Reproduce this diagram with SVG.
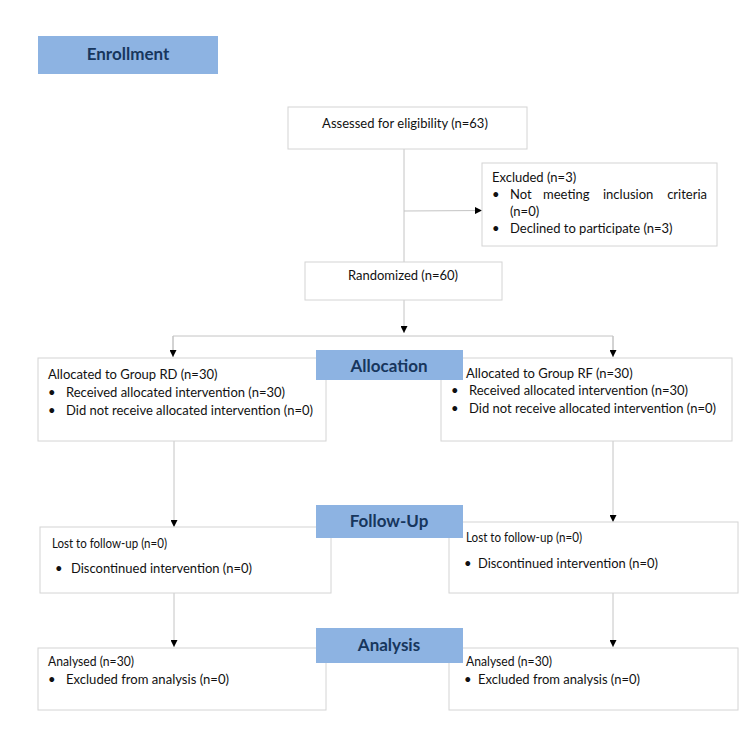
<svg xmlns="http://www.w3.org/2000/svg" width="750" height="731" viewBox="0 0 750 731">
<style>
.box{fill:#fff;stroke:#d4d4d4;stroke-width:1}
.lab{fill:#8db3e2;stroke:none}
.lt{font-family:Lato,"Noto Sans",sans-serif;font-size:17px;font-weight:bold;fill:#17365d;text-anchor:middle}
.t{font-family:Lato,"Noto Sans",sans-serif;font-size:13px;fill:#111}
.b{font-size:14px}
.c{stroke:#c4c4c4;stroke-width:1;fill:none}
</style>
<defs>
<marker id="ah" viewBox="0 0 10 10" refX="10" refY="5" markerWidth="7" markerHeight="7" markerUnits="userSpaceOnUse" orient="auto">
<path d="M0,0 L10,5 L0,10 Z" fill="#000"/>
</marker>
</defs>
<rect width="750" height="731" fill="#fff"/>
<g id="connectors">
<line class="c" x1="404" y1="149" x2="404" y2="262"/>
<line class="c" x1="404" y1="211" x2="482" y2="210.5" marker-end="url(#ah)"/>
<line class="c" x1="404" y1="300" x2="404" y2="333" marker-end="url(#ah)"/>
<polyline class="c" points="173,357 173,336 613,336 613,357"/>
<line class="c" x1="173" y1="336" x2="173" y2="357" marker-end="url(#ah)"/>
<line class="c" x1="613" y1="336" x2="613" y2="357" marker-end="url(#ah)"/>
<line class="c" x1="174" y1="441" x2="174" y2="527" marker-end="url(#ah)"/>
<line class="c" x1="613" y1="441" x2="613" y2="522" marker-end="url(#ah)"/>
<line class="c" x1="174" y1="593" x2="174" y2="647" marker-end="url(#ah)"/>
<line class="c" x1="613" y1="593" x2="613" y2="647" marker-end="url(#ah)"/>
</g>
<g id="enrollment"><rect class="lab" x="38" y="36" width="180" height="38"/><text class="lt" x="128" y="60">Enrollment</text></g>
<g id="assessed"><rect class="box" x="288" y="107" width="239" height="42"/><text class="t" x="405" y="128" text-anchor="middle">Assessed for eligibility (n=63)</text></g>
<g id="excluded"><rect class="box" x="482" y="163" width="235" height="83"/>
<text class="t" x="492" y="182">Excluded (n=3)</text>
<text class="t" x="492" y="199">•</text><text class="t" y="199"><tspan x="510">Not</tspan><tspan x="543">meeting</tspan><tspan x="603">inclusion</tspan><tspan x="707" text-anchor="end">criteria</tspan></text>
<text class="t" x="510" y="216">(n=0)</text>
<text class="t" x="492" y="233">•</text><text class="t" x="510" y="233">Declined to participate (n=3)</text></g>
<g id="randomized"><rect class="box" x="305" y="262" width="197" height="38"/><text class="t" x="403" y="280" text-anchor="middle">Randomized (n=60)</text></g>
<g id="allocRD"><rect class="box" x="38" y="358" width="288" height="83"/>
<text class="t" x="48" y="379">Allocated to Group RD (n=30)</text>
<text class="t" x="48" y="397">•</text><text class="t" x="66" y="397">Received allocated intervention (n=30)</text>
<text class="t" x="48" y="415">•</text><text class="t" x="66" y="415">Did not receive allocated intervention (n=0)</text></g>
<g id="allocRF"><rect class="box" x="441" y="358" width="291" height="83"/>
<text class="t" x="466" y="378">Allocated to Group RF (n=30)</text>
<text class="t" x="451" y="395">•</text><text class="t" x="469" y="395">Received allocated intervention (n=30)</text>
<text class="t" x="451" y="413">•</text><text class="t" x="469" y="413">Did not receive allocated intervention (n=0)</text></g>
<g id="allocation"><rect class="lab" x="316" y="350" width="147" height="30"/><text class="lt" x="389" y="372">Allocation</text></g>
<g id="followRD"><rect class="box" x="40" y="527" width="291" height="66"/>
<text class="t b" x="52" y="548" textLength="115" lengthAdjust="spacingAndGlyphs">Lost to follow-up (n=0)</text>
<text class="t" x="55" y="573">•</text><text class="t b" x="71" y="573" textLength="181" lengthAdjust="spacingAndGlyphs">Discontinued intervention (n=0)</text></g>
<g id="followRF"><rect class="box" x="449" y="522" width="289" height="71"/>
<text class="t b" x="466" y="542" textLength="116" lengthAdjust="spacingAndGlyphs">Lost to follow-up (n=0)</text>
<text class="t" x="464" y="568">•</text><text class="t b" x="478" y="568" textLength="180" lengthAdjust="spacingAndGlyphs">Discontinued intervention (n=0)</text></g>
<g id="followup"><rect class="lab" x="316" y="505" width="147" height="33"/><text class="lt" x="389" y="527">Follow-Up</text></g>
<g id="analysedRD"><rect class="box" x="38" y="648" width="288" height="62"/>
<text class="t b" x="48" y="666" textLength="86" lengthAdjust="spacingAndGlyphs">Analysed (n=30)</text>
<text class="t" x="48" y="684">•</text><text class="t b" x="66" y="684" textLength="163" lengthAdjust="spacingAndGlyphs">Excluded from analysis (n=0)</text></g>
<g id="analysedRF"><rect class="box" x="449" y="648" width="289" height="62"/>
<text class="t b" x="466" y="666" textLength="86" lengthAdjust="spacingAndGlyphs">Analysed (n=30)</text>
<text class="t" x="464" y="684">•</text><text class="t b" x="478" y="684" textLength="162" lengthAdjust="spacingAndGlyphs">Excluded from analysis (n=0)</text></g>
<g id="analysis"><rect class="lab" x="316" y="628" width="147" height="35"/><text class="lt" x="389" y="651">Analysis</text></g>
</svg>
